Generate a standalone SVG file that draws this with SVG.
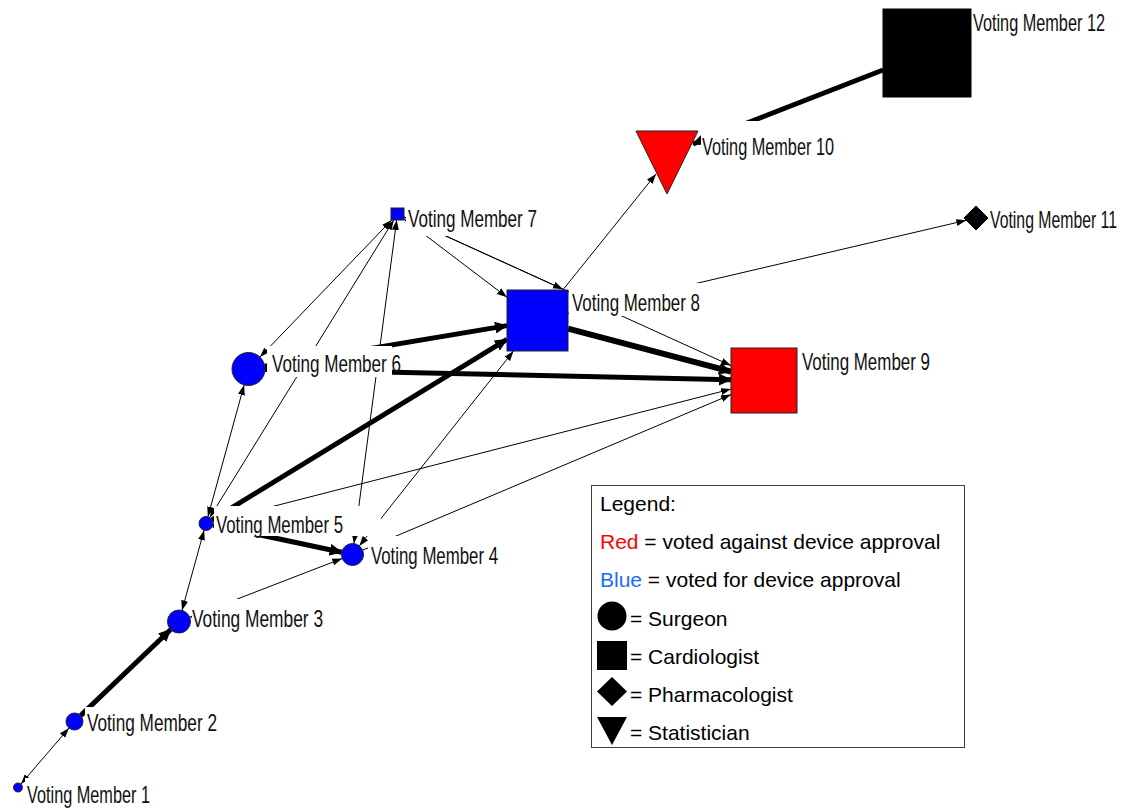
<svg xmlns="http://www.w3.org/2000/svg" width="1134" height="810" viewBox="0 0 1134 810">
<style>
.e{stroke:#000;stroke-width:1;fill:none}
.t{stroke:#000;stroke-width:5;fill:none}
.b{marker-start:url(#a);marker-end:url(#a)}
.n{marker-end:url(#a)}
.tn{marker-end:url(#A)}
.tb{marker-start:url(#A);marker-end:url(#A)}
.bx{fill:#fff}
.lb{font-family:"Liberation Sans",Arial,sans-serif;font-size:24px;fill:#111}
.lg{font-family:"Liberation Sans",Arial,sans-serif;font-size:21px;fill:#000}
.blue{fill:#0000ff;stroke:#222;stroke-width:1}
.red{fill:#ff0000;stroke:#222;stroke-width:1}
.blk{fill:#000;stroke:#000;stroke-width:1}
</style>
<defs>
<marker id="a" markerUnits="userSpaceOnUse" markerWidth="11" markerHeight="8" refX="10" refY="4" orient="auto-start-reverse" viewBox="0 0 11 8"><path d="M0,0.5 L10,4 L0,7.5 z" fill="#000"/></marker>
<marker id="A" markerUnits="userSpaceOnUse" markerWidth="14" markerHeight="12" refX="12" refY="6" orient="auto-start-reverse" viewBox="0 0 14 12"><path d="M0,0 L13,6 L0,12 z" fill="#000"/></marker>
</defs>
<rect width="1134" height="810" fill="#fff"/>
<g id="connectors">
<line class="e b" x1="21" y1="784" x2="69" y2="728"/>
<line class="t tn" x1="80.6" y1="715.6" x2="170.7" y2="629.5"/>
<line class="e b" x1="182" y1="610.4" x2="204.1" y2="530.2"/>
<line class="e b" x1="189.7" y1="617.4" x2="342.2" y2="558.5"/>
<line class="t tn" x1="212.9" y1="525" x2="341.7" y2="552.2"/>
<line class="t tn" x1="212" y1="519.8" x2="507" y2="339.3"/>
<line class="e b" x1="207.9" y1="516.8" x2="244.1" y2="385.1"/>
<line class="e b" x1="209.7" y1="517.5" x2="393.8" y2="220"/>
<line class="e n" x1="212.8" y1="521.8" x2="731" y2="389.1"/>
<line class="e b" x1="353.9" y1="543.6" x2="396.7" y2="220"/>
<line class="e b" x1="359.3" y1="545.9" x2="513.5" y2="351"/>
<line class="e n" x1="362.6" y1="550.2" x2="731" y2="394.6"/>
<line class="e b" x1="259.9" y1="357.1" x2="391.7" y2="220"/>
<line class="t tb" x1="264.8" y1="366.3" x2="507" y2="325.6"/>
<line class="t tn" x1="265" y1="369.4" x2="731" y2="379.8"/>
<line class="e b" x1="404" y1="219" x2="507" y2="297.2"/>
<line class="e n" x1="404" y1="217" x2="563" y2="289.2"/>
<line class="e n" x1="404" y1="217" x2="731" y2="365.6"/>
<line class="e n" x1="562.8" y1="290" x2="656" y2="174"/>
<line class="t tn" x1="883" y1="70" x2="693" y2="144"/>
<line class="e n" x1="568" y1="313.4" x2="966.3" y2="220.3"/>
<line class="t tn" style="stroke-width:6" x1="568" y1="328.6" x2="731" y2="371.7"/>
</g>
<g id="node1"><rect class="bx" x="25" y="778" width="130" height="32"/><text class="lb" transform="translate(27,803) scale(0.73,1)" textLength="168.5" lengthAdjust="spacingAndGlyphs">Voting Member 1</text><circle class="blue" cx="18" cy="787.5" r="4.5"/></g>
<g id="node2"><rect class="bx" x="85" y="707" width="135" height="30"/><text class="lb" transform="translate(87,731) scale(0.73,1)" textLength="178.1" lengthAdjust="spacingAndGlyphs">Voting Member 2</text><circle class="blue" cx="74.5" cy="721.5" r="8.5"/></g>
<g id="node3"><rect class="bx" x="192" y="599" width="136" height="33"/><text class="lb" transform="translate(192,627) scale(0.73,1)" textLength="179.5" lengthAdjust="spacingAndGlyphs">Voting Member 3</text><circle class="blue" cx="179" cy="621.5" r="11.5"/></g>
<g id="node4"><rect class="bx" x="368" y="536" width="133" height="34"/><text class="lb" transform="translate(371,564) scale(0.73,1)" textLength="174" lengthAdjust="spacingAndGlyphs">Voting Member 4</text><circle class="blue" cx="352.5" cy="554.5" r="11"/></g>
<g id="node5"><rect class="bx" x="214" y="506" width="167" height="30"/><text class="lb" transform="translate(216,533) scale(0.73,1)" textLength="174" lengthAdjust="spacingAndGlyphs">Voting Member 5</text><circle class="blue" cx="206" cy="523.5" r="7"/></g>
<g id="node6"><rect class="bx" x="267" y="346" width="125" height="31"/><text class="lb" transform="translate(272,372) scale(0.73,1)" textLength="176.7" lengthAdjust="spacingAndGlyphs">Voting Member 6</text><circle class="blue" cx="248.5" cy="369" r="16.5"/></g>
<g id="node7"><rect class="bx" x="406" y="200" width="134" height="36"/><text class="lb" transform="translate(408,227) scale(0.73,1)" textLength="176.7" lengthAdjust="spacingAndGlyphs">Voting Member 7</text><rect class="blue" x="391" y="208" width="13" height="12"/></g>
<g id="node8"><rect class="bx" x="569" y="283" width="131" height="33"/><text class="lb" transform="translate(572,311) scale(0.73,1)" textLength="175.3" lengthAdjust="spacingAndGlyphs">Voting Member 8</text><rect class="blue" x="507" y="290" width="61" height="61"/></g>
<g id="node9"><rect class="bx" x="799" y="342" width="134" height="34"/><text class="lb" transform="translate(802,370) scale(0.73,1)" textLength="175.3" lengthAdjust="spacingAndGlyphs">Voting Member 9</text><rect class="red" x="731" y="348" width="66" height="65"/></g>
<g id="node10"><rect class="bx" x="701" y="121" width="136" height="41"/><text class="lb" transform="translate(702,155) scale(0.73,1)" textLength="180.8" lengthAdjust="spacingAndGlyphs">Voting Member 10</text><polygon class="red" points="636,131 698,131 667,194"/></g>
<g id="node11"><rect class="bx" x="988" y="200" width="132" height="34"/><text class="lb" transform="translate(990,228) scale(0.73,1)" textLength="174" lengthAdjust="spacingAndGlyphs">Voting Member 11</text><polygon class="blk" points="976,206 988,218 976,230 964,218"/></g>
<g id="node12"><rect class="bx" x="972" y="3" width="136" height="34"/><text class="lb" transform="translate(973,31) scale(0.73,1)" textLength="180.8" lengthAdjust="spacingAndGlyphs">Voting Member 12</text><rect class="blk" x="883" y="9" width="88" height="88"/></g>
<g id="legend">
<rect x="591.5" y="485.5" width="373" height="262" fill="#fff" stroke="#404040" stroke-width="1"/>
<text class="lg" x="600" y="511">Legend:</text>
<text class="lg" x="600" y="549"><tspan fill="#ff0000">Red</tspan> = voted against device approval</text>
<text class="lg" x="600" y="587"><tspan fill="#1a6cff">Blue</tspan> = voted for device approval</text>
<circle cx="612" cy="616" r="14.5" fill="#000"/>
<text class="lg" x="630" y="626">= Surgeon</text>
<rect x="597" y="641" width="30" height="29" fill="#000"/>
<text class="lg" x="630" y="664">= Cardiologist</text>
<polygon points="612,677 627,691.5 612,706 597,691.5" fill="#000"/>
<text class="lg" x="630" y="702">= Pharmacologist</text>
<polygon points="597,717 627,717 612,745" fill="#000"/>
<text class="lg" x="630" y="740">= Statistician</text>
</g>
</svg>
